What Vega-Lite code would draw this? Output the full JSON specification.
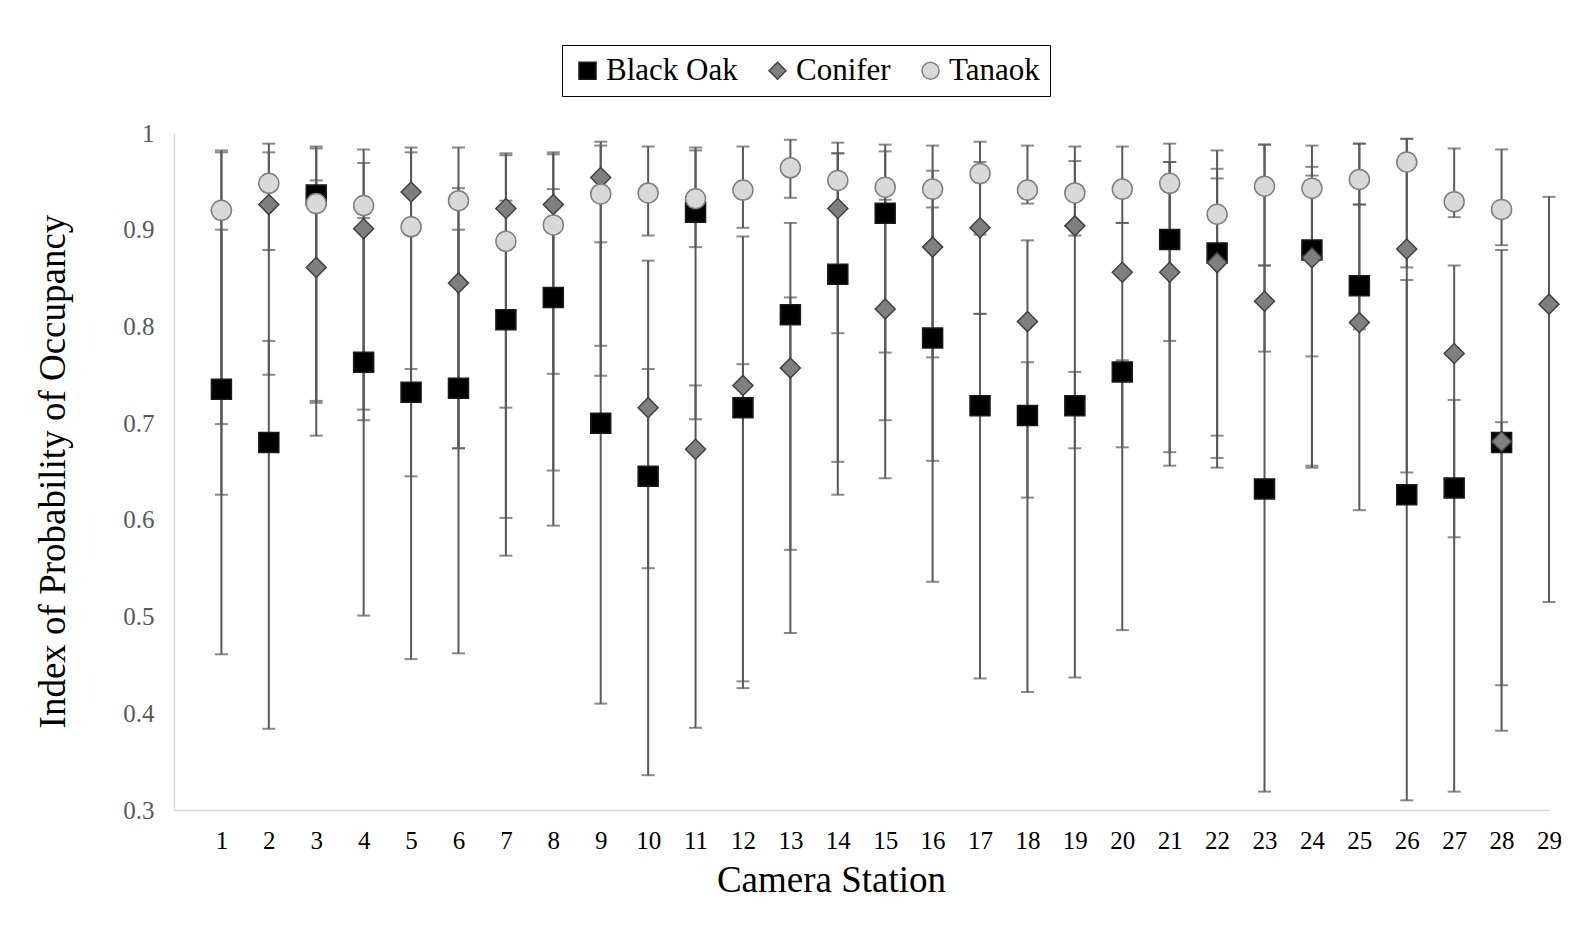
{
  "$schema": "https://vega.github.io/schema/vega-lite/v6.json",
  "autosize": {"type": "none"},
  "width": 1375,
  "height": 677,
  "padding": {"left": 174, "top": 133, "right": 32, "bottom": 138},
  "background": "white",
  "data": {
    "values": [
      {"station": 1, "series": "Black Oak", "mean": 0.735, "lo": 0.461, "hi": 0.900},
      {"station": 2, "series": "Black Oak", "mean": 0.680, "lo": 0.384, "hi": 0.785},
      {"station": 3, "series": "Black Oak", "mean": 0.936, "lo": 0.721, "hi": 0.986},
      {"station": 4, "series": "Black Oak", "mean": 0.763, "lo": 0.501, "hi": 0.912},
      {"station": 5, "series": "Black Oak", "mean": 0.732, "lo": 0.456, "hi": 0.910},
      {"station": 6, "series": "Black Oak", "mean": 0.736, "lo": 0.462, "hi": 0.900},
      {"station": 7, "series": "Black Oak", "mean": 0.807, "lo": 0.563, "hi": 0.930},
      {"station": 8, "series": "Black Oak", "mean": 0.830, "lo": 0.594, "hi": 0.942},
      {"station": 9, "series": "Black Oak", "mean": 0.700, "lo": 0.410, "hi": 0.887},
      {"station": 10, "series": "Black Oak", "mean": 0.645, "lo": 0.336, "hi": 0.756},
      {"station": 11, "series": "Black Oak", "mean": 0.918, "lo": 0.704, "hi": 0.982},
      {"station": 12, "series": "Black Oak", "mean": 0.716, "lo": 0.426, "hi": 0.893},
      {"station": 13, "series": "Black Oak", "mean": 0.812, "lo": 0.483, "hi": 0.907},
      {"station": 14, "series": "Black Oak", "mean": 0.854, "lo": 0.626, "hi": 0.979},
      {"station": 15, "series": "Black Oak", "mean": 0.917, "lo": 0.703, "hi": 0.981},
      {"station": 16, "series": "Black Oak", "mean": 0.788, "lo": 0.536, "hi": 0.923},
      {"station": 17, "series": "Black Oak", "mean": 0.718, "lo": 0.436, "hi": 0.813},
      {"station": 18, "series": "Black Oak", "mean": 0.708, "lo": 0.422, "hi": 0.763},
      {"station": 19, "series": "Black Oak", "mean": 0.718, "lo": 0.437, "hi": 0.753},
      {"station": 20, "series": "Black Oak", "mean": 0.753, "lo": 0.486, "hi": 0.765},
      {"station": 21, "series": "Black Oak", "mean": 0.890, "lo": 0.656, "hi": 0.970},
      {"station": 22, "series": "Black Oak", "mean": 0.876, "lo": 0.654, "hi": 0.963},
      {"station": 23, "series": "Black Oak", "mean": 0.632, "lo": 0.319, "hi": 0.863},
      {"station": 24, "series": "Black Oak", "mean": 0.879, "lo": 0.654, "hi": 0.965},
      {"station": 25, "series": "Black Oak", "mean": 0.842, "lo": 0.610, "hi": 0.989},
      {"station": 26, "series": "Black Oak", "mean": 0.626, "lo": 0.310, "hi": 0.848},
      {"station": 27, "series": "Black Oak", "mean": 0.633, "lo": 0.319, "hi": 0.724},
      {"station": 28, "series": "Black Oak", "mean": 0.680, "lo": 0.382, "hi": 0.701},
      {"station": 1, "series": "Conifer", "mean": 0.920, "lo": 0.626, "hi": 0.980},
      {"station": 2, "series": "Conifer", "mean": 0.926, "lo": 0.750, "hi": 0.980},
      {"station": 3, "series": "Conifer", "mean": 0.861, "lo": 0.687, "hi": 0.951},
      {"station": 4, "series": "Conifer", "mean": 0.901, "lo": 0.703, "hi": 0.969},
      {"station": 5, "series": "Conifer", "mean": 0.939, "lo": 0.645, "hi": 0.985},
      {"station": 6, "series": "Conifer", "mean": 0.845, "lo": 0.674, "hi": 0.943},
      {"station": 7, "series": "Conifer", "mean": 0.922, "lo": 0.602, "hi": 0.979},
      {"station": 8, "series": "Conifer", "mean": 0.926, "lo": 0.651, "hi": 0.980},
      {"station": 9, "series": "Conifer", "mean": 0.954, "lo": 0.749, "hi": 0.991},
      {"station": 10, "series": "Conifer", "mean": 0.716, "lo": 0.550, "hi": 0.868},
      {"station": 11, "series": "Conifer", "mean": 0.673, "lo": 0.385, "hi": 0.739},
      {"station": 12, "series": "Conifer", "mean": 0.739, "lo": 0.433, "hi": 0.761},
      {"station": 13, "series": "Conifer", "mean": 0.757, "lo": 0.569, "hi": 0.830},
      {"station": 14, "series": "Conifer", "mean": 0.922, "lo": 0.660, "hi": 0.979},
      {"station": 15, "series": "Conifer", "mean": 0.818, "lo": 0.643, "hi": 0.931},
      {"station": 16, "series": "Conifer", "mean": 0.882, "lo": 0.661, "hi": 0.961},
      {"station": 17, "series": "Conifer", "mean": 0.902, "lo": 0.813, "hi": 0.970},
      {"station": 18, "series": "Conifer", "mean": 0.805, "lo": 0.623, "hi": 0.889},
      {"station": 19, "series": "Conifer", "mean": 0.904, "lo": 0.674, "hi": 0.971},
      {"station": 20, "series": "Conifer", "mean": 0.856, "lo": 0.675, "hi": 0.907},
      {"station": 21, "series": "Conifer", "mean": 0.856, "lo": 0.670, "hi": 0.970},
      {"station": 22, "series": "Conifer", "mean": 0.866, "lo": 0.664, "hi": 0.953},
      {"station": 23, "series": "Conifer", "mean": 0.826, "lo": 0.774, "hi": 0.988},
      {"station": 24, "series": "Conifer", "mean": 0.871, "lo": 0.656, "hi": 0.956},
      {"station": 25, "series": "Conifer", "mean": 0.804, "lo": 0.797, "hi": 0.926},
      {"station": 26, "series": "Conifer", "mean": 0.880, "lo": 0.649, "hi": 0.994},
      {"station": 27, "series": "Conifer", "mean": 0.772, "lo": 0.582, "hi": 0.863},
      {"station": 28, "series": "Conifer", "mean": 0.681, "lo": 0.429, "hi": 0.879},
      {"station": 29, "series": "Conifer", "mean": 0.823, "lo": 0.515, "hi": 0.934},
      {"station": 1, "series": "Tanaok", "mean": 0.920, "lo": 0.699, "hi": 0.982},
      {"station": 2, "series": "Tanaok", "mean": 0.948, "lo": 0.879, "hi": 0.989},
      {"station": 3, "series": "Tanaok", "mean": 0.927, "lo": 0.723, "hi": 0.984},
      {"station": 4, "series": "Tanaok", "mean": 0.925, "lo": 0.714, "hi": 0.983},
      {"station": 5, "series": "Tanaok", "mean": 0.903, "lo": 0.756, "hi": 0.980},
      {"station": 6, "series": "Tanaok", "mean": 0.930, "lo": 0.674, "hi": 0.985},
      {"station": 7, "series": "Tanaok", "mean": 0.888, "lo": 0.716, "hi": 0.977},
      {"station": 8, "series": "Tanaok", "mean": 0.905, "lo": 0.751, "hi": 0.978},
      {"station": 9, "series": "Tanaok", "mean": 0.937, "lo": 0.780, "hi": 0.987},
      {"station": 10, "series": "Tanaok", "mean": 0.938, "lo": 0.894, "hi": 0.986},
      {"station": 11, "series": "Tanaok", "mean": 0.932, "lo": 0.882, "hi": 0.985},
      {"station": 12, "series": "Tanaok", "mean": 0.941, "lo": 0.902, "hi": 0.986},
      {"station": 13, "series": "Tanaok", "mean": 0.964, "lo": 0.933, "hi": 0.993},
      {"station": 14, "series": "Tanaok", "mean": 0.951, "lo": 0.793, "hi": 0.990},
      {"station": 15, "series": "Tanaok", "mean": 0.944, "lo": 0.773, "hi": 0.988},
      {"station": 16, "series": "Tanaok", "mean": 0.942, "lo": 0.768, "hi": 0.987},
      {"station": 17, "series": "Tanaok", "mean": 0.958, "lo": 0.895, "hi": 0.991},
      {"station": 18, "series": "Tanaok", "mean": 0.941, "lo": 0.927, "hi": 0.987},
      {"station": 19, "series": "Tanaok", "mean": 0.938, "lo": 0.894, "hi": 0.986},
      {"station": 20, "series": "Tanaok", "mean": 0.942, "lo": 0.907, "hi": 0.986},
      {"station": 21, "series": "Tanaok", "mean": 0.948, "lo": 0.785, "hi": 0.989},
      {"station": 22, "series": "Tanaok", "mean": 0.916, "lo": 0.687, "hi": 0.982},
      {"station": 23, "series": "Tanaok", "mean": 0.945, "lo": 0.863, "hi": 0.988},
      {"station": 24, "series": "Tanaok", "mean": 0.943, "lo": 0.769, "hi": 0.987},
      {"station": 25, "series": "Tanaok", "mean": 0.952, "lo": 0.926, "hi": 0.989},
      {"station": 26, "series": "Tanaok", "mean": 0.970, "lo": 0.861, "hi": 0.994},
      {"station": 27, "series": "Tanaok", "mean": 0.929, "lo": 0.913, "hi": 0.984},
      {"station": 28, "series": "Tanaok", "mean": 0.921, "lo": 0.884, "hi": 0.983}
    ]
  },
  "encoding": {
    "x": {
      "field": "station",
      "type": "quantitative",
      "scale": {"domain": [0, 29], "nice": false, "zero": false},
      "axis": {
        "values": [1,2,3,4,5,6,7,8,9,10,11,12,13,14,15,16,17,18,19,20,21,22,23,24,25,26,27,28,29],
        "format": "d",
        "title": "Camera Station"
      }
    }
  },
  "layer": [
    {
      "mark": {"type": "rule", "color": "#595959", "strokeWidth": 2},
      "encoding": {
        "y": {"field": "lo", "type": "quantitative", "scale": {"domain": [0.3, 1], "nice": false, "zero": false}, "title": "Index of Probability of Occupancy"},
        "y2": {"field": "hi"}
      }
    },
    {
      "mark": {"type": "tick", "orient": "horizontal", "color": "#595959", "size": 13, "thickness": 2},
      "encoding": {
        "y": {"field": "lo", "type": "quantitative", "scale": {"domain": [0.3, 1], "nice": false, "zero": false}, "title": "Index of Probability of Occupancy"}
      }
    },
    {
      "mark": {"type": "tick", "orient": "horizontal", "color": "#595959", "size": 13, "thickness": 2},
      "encoding": {
        "y": {"field": "hi", "type": "quantitative", "scale": {"domain": [0.3, 1], "nice": false, "zero": false}, "title": "Index of Probability of Occupancy"}
      }
    },
    {
      "mark": {"type": "point", "filled": false, "strokeWidth": 1.5, "opacity": 1, "fillOpacity": 1, "strokeOpacity": 1},
      "encoding": {
        "y": {"field": "mean", "type": "quantitative", "scale": {"domain": [0.3, 1], "nice": false, "zero": false}, "title": "Index of Probability of Occupancy"},
        "shape": {
          "field": "series", "type": "nominal",
          "scale": {"domain": ["Black Oak", "Conifer", "Tanaok"], "range": ["square", "diamond", "circle"]},
          "legend": {
            "title": null,
            "orient": "none",
            "legendX": 388,
            "legendY": -88,
            "direction": "horizontal",
            "labelFont": "Liberation Serif",
            "labelFontSize": 31,
            "labelColor": "#000000",
            "symbolSize": 289,
            "labelOffset": 3,
            "columnPadding": 24,
            "padding": 10,
            "strokeColor": "#000000",
            "encode": {
              "legend": {"update": {"strokeWidth": {"value": 2}}},
              "labels": {"update": {"font": {"value": "Liberation Serif"}, "fontSize": {"value": 31}}}
            }
          }
        },
        "fill": {
          "field": "series", "type": "nominal",
          "scale": {"domain": ["Black Oak", "Conifer", "Tanaok"], "range": ["#000000", "#7f7f7f", "#d9d9d9"]},
          "legend": {
            "title": null,
            "orient": "none",
            "legendX": 388,
            "legendY": -88,
            "direction": "horizontal",
            "labelFont": "Liberation Serif",
            "labelFontSize": 31,
            "labelColor": "#000000",
            "symbolSize": 289,
            "labelOffset": 3,
            "columnPadding": 24,
            "padding": 10,
            "strokeColor": "#000000",
            "encode": {
              "legend": {"update": {"strokeWidth": {"value": 2}}},
              "labels": {"update": {"font": {"value": "Liberation Serif"}, "fontSize": {"value": 31}}}
            }
          }
        },
        "stroke": {
          "field": "series", "type": "nominal",
          "scale": {"domain": ["Black Oak", "Conifer", "Tanaok"], "range": ["#1a1a1a", "#404040", "#7f7f7f"]},
          "legend": {
            "title": null,
            "orient": "none",
            "legendX": 388,
            "legendY": -88,
            "direction": "horizontal",
            "labelFont": "Liberation Serif",
            "labelFontSize": 31,
            "labelColor": "#000000",
            "symbolSize": 289,
            "labelOffset": 3,
            "columnPadding": 24,
            "padding": 10,
            "strokeColor": "#000000",
            "encode": {
              "legend": {"update": {"strokeWidth": {"value": 2}}},
              "labels": {"update": {"font": {"value": "Liberation Serif"}, "fontSize": {"value": 31}}}
            }
          }
        },
        "size": {"value": 400}
      }
    }
  ],
  "config": {
    "view": {"stroke": null},
    "font": "Liberation Serif",
    "axis": {
      "grid": false,
      "ticks": false,
      "domainColor": "#d9d9d9",
      "domainWidth": 1.5,
      "labelFont": "Liberation Serif",
      "labelFontSize": 25,
      "titleFont": "Liberation Serif",
      "titleFontSize": 37,
      "titleFontWeight": "normal",
      "titleColor": "#000000"
    },
    "axisX": {
      "labelColor": "#000000",
      "labelPadding": 18,
      "labelDx": 3,
      "labelFlush": false,
      "labelOverlap": false,
      "titleX": 657,
      "titleY": 81,
      "titleBaseline": "alphabetic",
      "titleAlign": "center"
    },
    "axisY": {
      "labelColor": "#595959",
      "labelPadding": 20,
      "labelFlush": false,
      "format": ".1~f",
      "tickCount": 8,
      "titleX": -110,
      "titleY": 338,
      "titleAngle": -90,
      "titleBaseline": "alphabetic",
      "titleAlign": "center"
    },
    "legend": {
      "labelFont": "Liberation Serif",
      "labelFontSize": 31,
      "labelColor": "#000000",
      "symbolSize": 289,
      "symbolStrokeWidth": 1.5,
      "labelOffset": 3,
      "columnPadding": 24,
      "padding": 10,
      "strokeColor": "#000000"
    }
  }
}
